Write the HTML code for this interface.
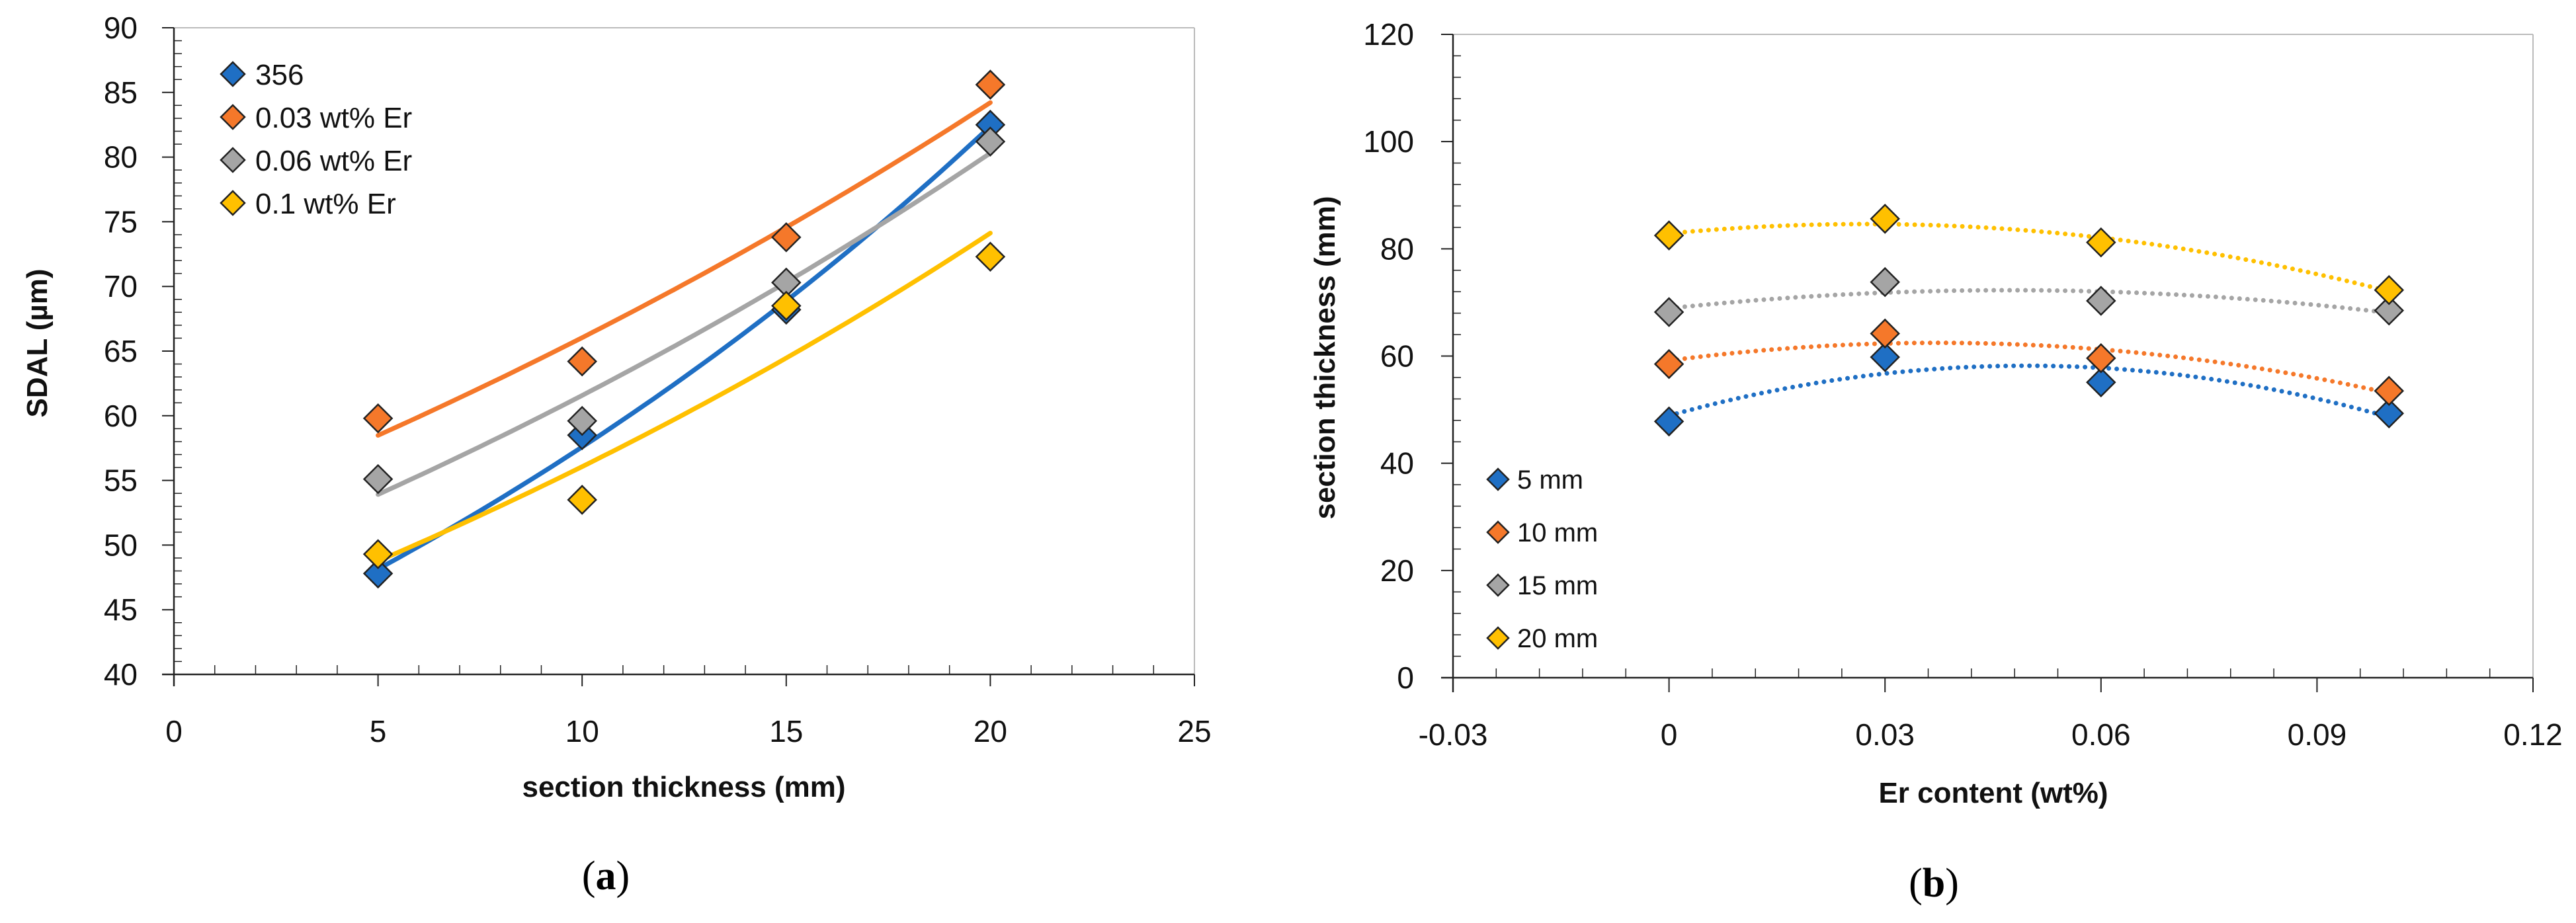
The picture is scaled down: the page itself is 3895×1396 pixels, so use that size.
<!DOCTYPE html>
<html><head><meta charset="utf-8"><style>
html,body{margin:0;padding:0;background:#fff;}
svg{display:block;}
text{font-family:"Liberation Sans",sans-serif;}
</style></head><body>
<svg id="svg" xmlns="http://www.w3.org/2000/svg" width="3895" height="1396" viewBox="0 0 3895 1396">
<rect width="3895" height="1396" fill="#fff"/>
<g id="ga"></g>
<g id="gb"></g>
<text x="916" y="1345" font-size="62" text-anchor="middle" style="font-family:'Liberation Serif',serif">(<tspan font-weight="bold">a</tspan>)</text>
<text x="2924" y="1356" font-size="62" text-anchor="middle" style="font-family:'Liberation Serif',serif">(<tspan font-weight="bold">b</tspan>)</text>
</svg>
<script>
// Chart A data
const aX = [5, 10, 15, 20];
const aSeriesNames = ["356", "0.03 wt% Er", "0.06 wt% Er", "0.1 wt% Er"];
const a356 = [47.8, 58.5, 68.2, 82.5];
const a003 = [59.8, 64.2, 73.8, 85.6];
const a006 = [55.1, 59.6, 70.3, 81.2];
const a01 = [49.3, 53.5, 68.5, 72.3];
const aXTicks = [0, 5, 10, 15, 20, 25];
const aYTicks = [40, 45, 50, 55, 60, 65, 70, 75, 80, 85, 90];
// Chart B data
const bX = [0, 0.03, 0.06, 0.1];
const bSeriesNames = ["5 mm", "10 mm", "15 mm", "20 mm"];
const b5 = [47.8, 59.8, 55.1, 49.3];
const b10 = [58.5, 64.2, 59.6, 53.5];
const b15 = [68.2, 73.8, 70.3, 68.5];
const b20 = [82.5, 85.6, 81.2, 72.3];
const bXTicks = ["-0.03", "0", "0.03", "0.06", "0.09", "0.12"];
const bYTicks = [0, 20, 40, 60, 80, 100, 120];

const colors = ["#1f6fc4", "#f5782a", "#a5a5a5", "#ffc000"];
const NS = "http://www.w3.org/2000/svg";
function mk(parent, tag, attrs, txt) {
  const e = document.createElementNS(NS, tag);
  for (const k in attrs) e.setAttribute(k, attrs[k]);
  if (txt !== undefined) e.textContent = txt;
  parent.appendChild(e);
  return e;
}
function diamond(g, cx, cy, r, fill) {
  const d = mk(g, "path", {d:`M${cx},${cy-r}L${cx+r},${cy}L${cx},${cy+r}L${cx-r},${cy}Z`, fill:fill, stroke:"#222", "stroke-width":2.5});
  return d;
}
// ---------- Chart A ----------
(function(){
  const g = document.getElementById("ga");
  const L=263, R=1806, T=42, B=1020;
  const xs = v => L + (v-0)/(25-0)*(R-L);
  const ys = v => B - (v-40)/(90-40)*(B-T);
  let e = mk(g,"line",{x1:L,y1:T,x2:R,y2:T,stroke:"#bbb","stroke-width":2});
   
  e = mk(g,"line",{x1:R,y1:T,x2:R,y2:B,stroke:"#bbb","stroke-width":2});
   
  e = mk(g,"line",{x1:L,y1:T,x2:L,y2:B+18,stroke:"#222","stroke-width":2.5});
   
  e = mk(g,"line",{x1:L-18,y1:B,x2:R,y2:B,stroke:"#222","stroke-width":2.5});
   
  for (let v=40; v<=90; v+=1) {
    const y=ys(v);
    if (v%5===0) mk(g,"line",{x1:L-18,y1:y,x2:L,y2:y,stroke:"#222","stroke-width":2});
    else mk(g,"line",{x1:L,y1:y,x2:L+12,y2:y,stroke:"#222","stroke-width":1.5});
  }
  for (let v=0; v<=25; v+=1) {
    const x=xs(v);
    if (v%5===0) mk(g,"line",{x1:x,y1:B,x2:x,y2:B+18,stroke:"#222","stroke-width":2});
    else mk(g,"line",{x1:x,y1:B,x2:x,y2:B-14,stroke:"#222","stroke-width":1.5});
  }
  aYTicks.forEach(v=>{
    const t = mk(g,"text",{x:208,y:ys(v)+16,"font-size":46,"text-anchor":"end",fill:"#111"},String(v));
     
  });
  aXTicks.forEach(v=>{
    const t = mk(g,"text",{x:xs(v),y:1122,"font-size":46,"text-anchor":"middle",fill:"#111"},String(v));
     
  });
  let t = mk(g,"text",{x:1034,y:1205,"font-size":44,"font-weight":"bold","text-anchor":"middle",fill:"#111"},"section thickness (mm)");
   
  t = mk(g,"text",{x:0,y:0,"font-size":44,"font-weight":"bold","text-anchor":"middle",fill:"#111",transform:"translate(71,519) rotate(-90)"},"SDAL (µm)");
   
  const series = [a356,a003,a006,a01];
  series.forEach((ys_,i)=>{
    const n=aX.length; let sx=0,sy=0,sxx=0,sxy=0;
    for(let k=0;k<n;k++){const lx=aX[k],ly=Math.log(ys_[k]);sx+=lx;sy+=ly;sxx+=lx*lx;sxy+=lx*ly;}
    const b=(n*sxy-sx*sy)/(n*sxx-sx*sx), a=(sy-b*sx)/n;
    let d="";
    for(let v=aX[0]; v<=aX[n-1]+1e-9; v+=0.25){d+=(d?"L":"M")+xs(v).toFixed(1)+","+ys(Math.exp(a+b*v)).toFixed(1);}
    const p=mk(g,"path",{d:d,fill:"none",stroke:colors[i],"stroke-width":7,"stroke-linecap":"round"});
     
  });
  series.forEach((ys_,i)=>{
    ys_.forEach((v,k)=>{
      const dm = diamond(g, xs(aX[k]), ys(v), 21, colors[i]);
      
      
    });
  });
  aSeriesNames.forEach((nm,i)=>{
    const y=112+i*65;
    const dm = diamond(g,352,y,18,colors[i]);
     
    const tt = mk(g,"text",{x:386,y:y+16,"font-size":44,fill:"#111"},nm);
     
  });
})();
// ---------- Chart B ----------
(function(){
  const g = document.getElementById("gb");
  const L=2197, R=3830, T=52, B=1025;
  const xs = v => L + (v+0.03)/(0.15)*(R-L);
  const ys = v => B - v/120*(B-T);
  let e = mk(g,"line",{x1:L,y1:T,x2:R,y2:T,stroke:"#bbb","stroke-width":2});
   
  e = mk(g,"line",{x1:R,y1:T,x2:R,y2:B,stroke:"#bbb","stroke-width":2});
   
  e = mk(g,"line",{x1:L,y1:T,x2:L,y2:B+22,stroke:"#222","stroke-width":2.5});
   
  e = mk(g,"line",{x1:L-18,y1:B,x2:R,y2:B,stroke:"#222","stroke-width":2.5});
   
  for (let k=0;k<=30;k++){
    const y=ys(k*4);
    if (k%5===0) mk(g,"line",{x1:L-18,y1:y,x2:L,y2:y,stroke:"#222","stroke-width":2});
    else mk(g,"line",{x1:L,y1:y,x2:L+12,y2:y,stroke:"#222","stroke-width":1.5});
  }
  for (let k=0;k<=25;k++){
    const x=xs(-0.03+k*0.006);
    if (k%5===0) mk(g,"line",{x1:x,y1:B,x2:x,y2:B+22,stroke:"#222","stroke-width":2});
    else mk(g,"line",{x1:x,y1:B,x2:x,y2:B-14,stroke:"#222","stroke-width":1.5});
  }
  bYTicks.forEach(v=>{
    const t = mk(g,"text",{x:2138,y:ys(v)+16,"font-size":46,"text-anchor":"end",fill:"#111"},String(v));
     
  });
  bXTicks.forEach(s=>{
    const t = mk(g,"text",{x:xs(parseFloat(s)),y:1127,"font-size":46,"text-anchor":"middle",fill:"#111"},s);
     
  });
  let t = mk(g,"text",{x:3014,y:1214,"font-size":44,"font-weight":"bold","text-anchor":"middle",fill:"#111"},"Er content (wt%)");
   
  t = mk(g,"text",{x:0,y:0,"font-size":44,"font-weight":"bold","text-anchor":"middle",fill:"#111",transform:"translate(2018,541) rotate(-90)"},"section thickness (mm)");
   
  const series=[b5,b10,b15,b20];
  function quadfit(X,Y){
    const S=[0,0,0,0,0], Ty=[0,0,0];
    for(let k=0;k<X.length;k++){let p=1;for(let j=0;j<5;j++){S[j]+=p;if(j<3)Ty[j]+=p*Y[k];p*=X[k];}}
    const M=[[S[0],S[1],S[2],Ty[0]],[S[1],S[2],S[3],Ty[1]],[S[2],S[3],S[4],Ty[2]]];
    for(let i=0;i<3;i++){for(let r=i+1;r<3;r++){const f=M[r][i]/M[i][i];for(let c=i;c<4;c++)M[r][c]-=f*M[i][c];}}
    const c=[0,0,0];
    for(let i=2;i>=0;i--){let s=M[i][3];for(let j=i+1;j<3;j++)s-=M[i][j]*c[j];c[i]=s/M[i][i];}
    return c;
  }
  series.forEach((Y,i)=>{
    const c=quadfit(bX,Y);
    let d="";
    const x0=bX[0], x1=bX[bX.length-1];
    for(let k=0;k<=100;k++){const v=x0+(x1-x0)*k/100;d+=(d?"L":"M")+xs(v).toFixed(1)+","+ys(c[0]+c[1]*v+c[2]*v*v).toFixed(1);}
    const p=mk(g,"path",{d:d,fill:"none",stroke:colors[i],"stroke-width":7,"stroke-dasharray":"0 12","stroke-linecap":"round"});
     
  });
  series.forEach((Y,i)=>{
    Y.forEach((v,k)=>{
      const dm=diamond(g,xs(bX[k]),ys(v),21,colors[i]);
      
      
    });
  });
  bSeriesNames.forEach((nm,i)=>{
    const y=725+i*80;
    const dm=diamond(g,2265,y,16,colors[i]);
     
    const tt=mk(g,"text",{x:2294,y:y+14,"font-size":40,fill:"#111"},nm);
     
  });
})();
</script>
</body></html>
